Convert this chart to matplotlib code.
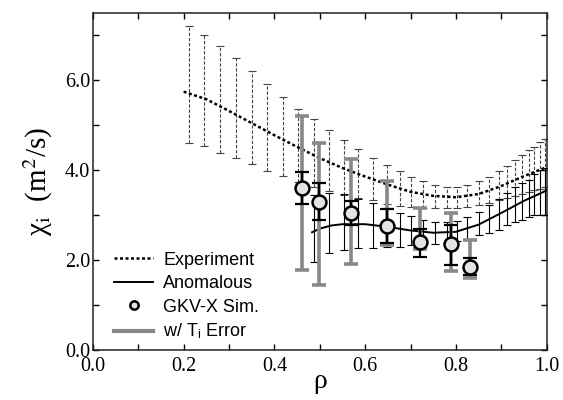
import numpy as np
import matplotlib
matplotlib.use("Agg")
import matplotlib.pyplot as plt
from matplotlib.lines import Line2D

plt.rcParams['font.family'] = ['Liberation Serif', 'DejaVu Serif']
plt.rcParams['mathtext.fontset'] = 'stix'

# ---- data ----
exp_line_rho = [0.20, 0.25, 0.30, 0.35, 0.40, 0.45, 0.50, 0.55, 0.60, 0.65, 0.70, 0.75, 0.80, 0.85, 0.90, 0.95, 1.00]
exp_line_val = [5.75, 5.58, 5.32, 5.05, 4.78, 4.52, 4.27, 4.05, 3.86, 3.68, 3.52, 3.43, 3.40, 3.47, 3.65, 3.87, 4.07]

exp_rho = [0.212, 0.245, 0.280, 0.315, 0.350, 0.383, 0.420, 0.451, 0.488, 0.521, 0.554, 0.584, 0.617, 0.648,
           0.677, 0.701, 0.727, 0.754, 0.780, 0.802, 0.824, 0.850, 0.872, 0.894, 0.912, 0.931, 0.945, 0.960,
           0.973, 0.986, 0.997]
exp_top = [7.21, 7.02, 6.76, 6.50, 6.21, 5.93, 5.64, 5.37, 5.13, 4.90, 4.68, 4.47, 4.28, 4.11, 3.98, 3.85,
           3.76, 3.67, 3.62, 3.62, 3.67, 3.76, 3.85, 3.98, 4.10, 4.22, 4.33, 4.44, 4.52, 4.63, 4.70]
exp_bot = [4.61, 4.53, 4.39, 4.27, 4.13, 3.99, 3.87, 3.75, 3.62, 3.53, 3.45, 3.39, 3.33, 3.25, 3.21, 3.19,
           3.17, 3.16, 3.16, 3.17, 3.19, 3.22, 3.27, 3.33, 3.38, 3.43, 3.47, 3.51, 3.55, 3.59, 3.62]

anom_line_rho = [0.483, 0.50, 0.525, 0.55, 0.60, 0.65, 0.70, 0.75, 0.80, 0.85, 0.90, 0.95, 1.00]
anom_line_val = [2.62, 2.70, 2.77, 2.80, 2.80, 2.74, 2.66, 2.61, 2.63, 2.79, 3.05, 3.32, 3.55]

anom_rho = exp_rho[8:]
anom_top = [3.46, 3.50, 3.47, 3.37, 3.28, 3.17, 3.06, 2.98, 2.90, 2.85, 2.84, 2.87, 2.96, 3.07, 3.22, 3.35,
            3.50, 3.63, 3.72, 3.79, 3.91, 4.00, 4.04]
anom_bot = [1.96, 2.16, 2.22, 2.26, 2.28, 2.29, 2.30, 2.33, 2.35, 2.37, 2.38, 2.42, 2.48, 2.56, 2.60, 2.67,
            2.78, 2.85, 2.90, 2.96, 3.00, 3.00, 3.00]

gkv_rho = [0.460, 0.499, 0.569, 0.649, 0.721, 0.789, 0.830]
gkv_val = [3.61, 3.30, 3.04, 2.76, 2.41, 2.36, 1.84]
gkv_lo = [3.24, 2.89, 2.78, 2.38, 2.07, 1.89, 1.67]
gkv_hi = [3.96, 3.72, 3.32, 3.13, 2.70, 2.78, 2.04]
gkv_ti_lo = [1.78, 1.44, 1.91, 2.33, 2.24, 1.76, 1.61]
gkv_ti_hi = [5.21, 4.61, 4.26, 3.76, 3.15, 3.05, 2.44]

# ---- figure ----
fig = plt.figure(figsize=(5.63, 4.0), dpi=100)
ax = fig.add_axes([0.165, 0.125, 0.806, 0.8425])

def asym(center, lo, hi):
    c = np.asarray(center, float)
    return [c - np.asarray(lo, float), np.asarray(hi, float) - c]

# experiment error bars (dashed)
exp_top_a = np.asarray(exp_top); exp_bot_a = np.asarray(exp_bot)
exp_mid = (exp_top_a + exp_bot_a) / 2
eb = ax.errorbar(exp_rho, exp_mid, yerr=(exp_top_a - exp_bot_a) / 2, fmt='none',
                 ecolor='#444444', elinewidth=0.8, capsize=2.6, capthick=0.8, zorder=2)
for lc in eb[2]:
    lc.set_linestyle((0, (3.0, 1.6)))

# experiment line
ax.plot(exp_line_rho, exp_line_val, color='black', lw=1.8, linestyle=(0, (1.2, 1.0)), zorder=3)

# anomalous error bars
anom_top_a = np.asarray(anom_top); anom_bot_a = np.asarray(anom_bot)
anom_mid = (anom_top_a + anom_bot_a) / 2
ax.errorbar(anom_rho, anom_mid, yerr=(anom_top_a - anom_bot_a) / 2, fmt='none',
            ecolor='black', elinewidth=0.8, capsize=2.6, capthick=0.8, zorder=3)
ax.plot(anom_line_rho, anom_line_val, color='black', lw=1.4, zorder=4)

# GKV with Ti error (gray)
ax.errorbar(gkv_rho, gkv_val, yerr=asym(gkv_val, gkv_ti_lo, gkv_ti_hi), fmt='none',
            ecolor='#888888', elinewidth=2.6, capsize=5.0, capthick=2.6, zorder=5)
# GKV black error
ax.errorbar(gkv_rho, gkv_val, yerr=asym(gkv_val, gkv_lo, gkv_hi), fmt='none',
            ecolor='black', elinewidth=1.6, capsize=5.0, capthick=1.6, zorder=6)
ax.plot(gkv_rho, gkv_val, linestyle='none', marker='o', markersize=10, mfc='#e3e3e3',
        mec='black', mew=1.8, zorder=7)

# axes
ax.set_xlim(0.0, 1.0)
ax.set_ylim(0.0, 7.5)
ax.set_xticks([0.0, 0.2, 0.4, 0.6, 0.8, 1.0])
ax.set_xticks(np.arange(0.1, 1.0, 0.2), minor=True)
ax.set_yticks([0.0, 2.0, 4.0, 6.0])
ax.set_yticks([1.0, 3.0, 5.0, 7.0], minor=True)
ax.set_xticklabels(['0.0', '0.2', '0.4', '0.6', '0.8', '1.0'])
ax.set_yticklabels(['0.0', '2.0', '4.0', '6.0'])
ax.tick_params(which='both', direction='in', top=True, right=True, length=4.5, width=1.0,
               labelsize=14.5)
ax.tick_params(axis='x', pad=5)
ax.tick_params(axis='y', pad=2)
for s in ax.spines.values():
    s.set_linewidth(1.1)
    s.set_color('#222222')

ax.set_xlabel('ρ', fontsize=20, labelpad=-5)
ax.set_ylabel('χ$_{\\mathrm{i}}$  (m$^{2}$/s)', fontsize=21, labelpad=7)

handles = [
    Line2D([], [], color='black', lw=1.8, linestyle=(0, (1.2, 1.0))),
    Line2D([], [], color='black', lw=1.4),
    Line2D([], [], linestyle='none', marker='o', markersize=6, mfc='#e3e3e3', mec='black', mew=1.8),
    Line2D([], [], color='#888888', lw=3.0),
]
labels = ['Experiment', 'Anomalous', 'GKV-X Sim.', 'w/ T$_{\\mathregular{i}}$ Error']
leg = ax.legend(handles, labels, loc='upper left', bbox_to_anchor=(0.046, 0.292), frameon=False,
                prop={'family': 'Liberation Sans', 'size': 13}, handlelength=2.2,
                handletextpad=0.55, labelspacing=0.36, borderpad=0, borderaxespad=0)

fig.savefig('out.png', dpi=100)
